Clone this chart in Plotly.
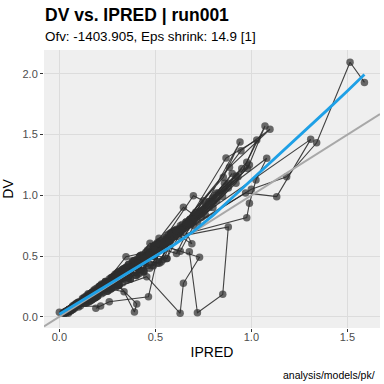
import plotly.graph_objects as go

# ---------------- data ----------------
SUBJECTS = [
    # (IPRED list, DV list) per subject, in time order
    ([0.18, 0.36, 0.52, 0.55, 0.46, 0.37, 0.27, 0.15, 0.05], [0.20, 0.39, 0.58, 0.60, 0.49, 0.36, 0.28, 0.14, 0.06]),
    ([0.22, 0.45, 0.646, 0.70, 0.60, 0.48, 0.35, 0.20, 0.07], [0.24, 0.50, 0.901, 0.84, 0.66, 0.51, 0.37, 0.22, 0.08]),
    ([0.15, 0.30, 0.42, 0.45, 0.38, 0.30, 0.22, 0.12, 0.04], [0.17, 0.33, 0.46, 0.44, 0.40, 0.31, 0.21, 0.13, 0.04]),
    ([0.30, 0.58, 0.854, 0.941, 0.76, 0.62, 0.45, 0.26, 0.09], [0.33, 0.66, 1.148, 1.439, 0.92, 0.70, 0.48, 0.28, 0.09]),
    ([0.12, 0.24, 0.33, 0.35, 0.30, 0.24, 0.17, 0.09, 0.03], [0.13, 0.25, 0.36, 0.34, 0.31, 0.25, 0.18, 0.10, 0.03]),
    ([0.20, 0.40, 0.519, 0.62, 0.53, 0.472, 0.31, 0.17, 0.06], [0.22, 0.44, 0.646, 0.70, 0.57, 0.605, 0.30, 0.18, 0.06]),
    ([0.35, 0.68, 0.98, 1.071, 0.92, 0.74, 0.54, 0.31, 0.10], [0.38, 0.80, 1.22, 1.571, 1.10, 0.82, 0.58, 0.33, 0.11]),
    ([0.16, 0.33, 0.47, 0.50, 0.43, 0.34, 0.25, 0.14, 0.05], [0.18, 0.37, 0.52, 0.55, 0.45, 0.33, 0.26, 0.15, 0.05]),
    ([0.26, 0.52, 0.698, 0.75, 0.68, 0.55, 0.40, 0.23, 0.08], [0.29, 0.58, 0.997, 0.956, 0.80, 0.60, 0.43, 0.24, 0.09]),
    ([0.13, 0.27, 0.38, 0.40, 0.34, 0.27, 0.20, 0.11, 0.04], [0.15, 0.29, 0.41, 0.45, 0.36, 0.28, 0.19, 0.12, 0.04]),
    ([0.31, 0.62, 0.886, 1.097, 0.946, 0.66, 0.48, 0.27, 0.09], [0.34, 0.72, 1.231, 1.544, 1.368, 0.76, 0.52, 0.29, 0.10]),
    ([0.19, 0.38, 0.55, 0.58, 0.50, 0.40, 0.29, 0.16, 0.05], [0.21, 0.41, 0.60, 0.64, 0.53, 0.42, 0.31, 0.17, 0.05]),
    ([0.10, 0.20, 0.28, 0.30, 0.26, 0.21, 0.15, 0.08, 0.03], [0.11, 0.21, 0.30, 0.31, 0.27, 0.22, 0.15, 0.09, 0.03]),
    ([0.25, 0.49, 0.70, 0.75, 0.64, 0.51, 0.347, 0.21, 0.07], [0.27, 0.55, 0.82, 0.88, 0.72, 0.55, 0.494, 0.22, 0.08]),
    ([0.33, 0.65, 0.868, 1.028, 0.976, 0.69, 0.50, 0.29, 0.10], [0.36, 0.74, 1.307, 1.456, 1.272, 0.78, 0.54, 0.30, 0.10]),
    ([0.17, 0.34, 0.49, 0.52, 0.44, 0.36, 0.26, 0.14, 0.05], [0.19, 0.36, 0.53, 0.57, 0.47, 0.37, 0.27, 0.15, 0.05]),
    ([0.21, 0.43, 0.62, 0.66, 0.57, 0.45, 0.33, 0.18, 0.06], [0.23, 0.47, 0.70, 0.76, 0.62, 0.48, 0.35, 0.19, 0.06]),
    ([0.28, 0.55, 0.80, 1.080, 1.024, 0.990, 0.976, 0.58, 0.42, 0.24, 0.08], [0.31, 0.62, 0.97, 1.305, 1.126, 0.934, 0.816, 0.65, 0.45, 0.26, 0.09]),
    ([1.589, 1.514, 1.34, 1.184, 1.00, 0.72, 0.45, 0.22, 0.08], [1.93, 2.096, 1.433, 1.153, 1.05, 0.78, 0.48, 0.24, 0.09]),
    ([0.40, 0.80, 1.309, 1.132, 0.97, 0.70, 0.42, 0.20, 0.07], [0.44, 0.90, 1.461, 0.989, 1.02, 0.75, 0.45, 0.22, 0.07]),
    ([0.15, 0.455, 0.629, 0.646, 0.73, 0.55, 0.35, 0.12], [0.16, 0.33, 0.028, 0.275, 0.49, 0.58, 0.37, 0.13]),
    ([0.677, 0.719, 0.851, 0.88, 0.62, 0.40, 0.20, 0.07], [0.535, 0.033, 0.184, 0.74, 0.66, 0.43, 0.21, 0.07]),
    ([0.10, 0.22, 0.337, 0.391, 0.403, 0.28, 0.16, 0.06], [0.11, 0.24, 0.206, 0.039, 0.105, 0.30, 0.17, 0.06]),
    ([0.12, 0.28, 0.46, 0.52, 0.464, 0.26, 0.19, 0.215, 0.08], [0.13, 0.30, 0.50, 0.55, 0.165, 0.124, 0.069, 0.088, 0.085]),
    ([0.0, 0.047, 0.09, 0.14], [0.036, 0.028, 0.10, 0.15]),
    ([0.08, 0.16, 0.23, 0.25, 0.21, 0.17, 0.12, 0.07, 0.02], [0.09, 0.17, 0.25, 0.24, 0.22, 0.18, 0.12, 0.08, 0.03]),
    ([0.14, 0.29, 0.41, 0.44, 0.37, 0.29, 0.21, 0.12, 0.04], [0.16, 0.31, 0.40, 0.48, 0.38, 0.31, 0.20, 0.13, 0.04]),
    ([0.19, 0.37, 0.53, 0.57, 0.49, 0.39, 0.28, 0.16, 0.05], [0.18, 0.40, 0.57, 0.62, 0.50, 0.41, 0.30, 0.15, 0.06]),
    ([0.23, 0.46, 0.63, 0.68, 0.58, 0.47, 0.34, 0.19, 0.06], [0.25, 0.49, 0.70, 0.78, 0.63, 0.50, 0.36, 0.20, 0.07]),
    ([0.11, 0.22, 0.31, 0.33, 0.28, 0.23, 0.16, 0.09, 0.03], [0.12, 0.24, 0.33, 0.36, 0.29, 0.24, 0.17, 0.10, 0.03]),
    ([0.17, 0.35, 0.48, 0.51, 0.44, 0.35, 0.25, 0.14, 0.05], [0.19, 0.38, 0.50, 0.56, 0.46, 0.37, 0.27, 0.16, 0.05]),
    ([0.21, 0.42, 0.60, 0.64, 0.55, 0.44, 0.32, 0.18, 0.06], [0.23, 0.45, 0.66, 0.72, 0.60, 0.46, 0.33, 0.19, 0.06]),
    ([0.13, 0.26, 0.36, 0.39, 0.33, 0.26, 0.19, 0.11, 0.04], [0.14, 0.28, 0.39, 0.42, 0.35, 0.27, 0.20, 0.11, 0.04]),
    ([0.24, 0.48, 0.67, 0.72, 0.62, 0.49, 0.36, 0.20, 0.07], [0.26, 0.53, 0.76, 0.86, 0.69, 0.53, 0.38, 0.21, 0.07]),
    ([0.16, 0.31, 0.44, 0.47, 0.40, 0.32, 0.23, 0.13, 0.04], [0.17, 0.34, 0.48, 0.50, 0.42, 0.34, 0.24, 0.14, 0.05]),
    ([0.09, 0.18, 0.26, 0.28, 0.24, 0.19, 0.14, 0.08, 0.02], [0.10, 0.19, 0.28, 0.29, 0.25, 0.20, 0.15, 0.08, 0.03]),
    ([0.20, 0.39, 0.56, 0.60, 0.51, 0.41, 0.30, 0.17, 0.06], [0.21, 0.43, 0.61, 0.67, 0.55, 0.43, 0.31, 0.18, 0.06]),
    ([0.27, 0.53, 0.72, 0.78, 0.66, 0.53, 0.39, 0.22, 0.07], [0.30, 0.59, 0.84, 0.95, 0.76, 0.58, 0.42, 0.23, 0.08]),
    ([0.12, 0.25, 0.35, 0.37, 0.32, 0.25, 0.18, 0.10, 0.03], [0.13, 0.26, 0.37, 0.41, 0.33, 0.26, 0.19, 0.10, 0.04]),
    ([0.18, 0.36, 0.51, 0.54, 0.46, 0.37, 0.27, 0.15, 0.05], [0.20, 0.40, 0.55, 0.59, 0.49, 0.39, 0.28, 0.16, 0.05]),
    ([0.22, 0.44, 0.61, 0.65, 0.56, 0.45, 0.33, 0.18, 0.06], [0.24, 0.48, 0.68, 0.74, 0.61, 0.47, 0.35, 0.19, 0.06]),
    ([0.15, 0.30, 0.43, 0.46, 0.39, 0.31, 0.22, 0.13, 0.04], [0.16, 0.32, 0.47, 0.49, 0.41, 0.32, 0.23, 0.13, 0.04]),
    ([0.29, 0.57, 0.76, 0.83, 0.70, 0.57, 0.41, 0.24, 0.08], [0.32, 0.64, 0.90, 1.02, 0.81, 0.63, 0.44, 0.25, 0.08]),
    ([0.10, 0.21, 0.30, 0.32, 0.27, 0.22, 0.16, 0.09, 0.03], [0.11, 0.23, 0.31, 0.35, 0.28, 0.23, 0.16, 0.09, 0.03]),
    ([0.25, 0.50, 0.69, 0.73, 0.63, 0.50, 0.37, 0.21, 0.07], [0.27, 0.55, 0.79, 0.85, 0.70, 0.54, 0.40, 0.22, 0.07]),
    ([0.07, 0.15, 0.24, 0.30, 0.27, 0.22, 0.16, 0.10, 0.04], [0.09, 0.19, 0.29, 0.36, 0.24, 0.25, 0.13, 0.12, 0.05]),
    ([0.12, 0.26, 0.38, 0.42, 0.36, 0.28, 0.20, 0.12, 0.05], [0.15, 0.22, 0.46, 0.50, 0.31, 0.33, 0.17, 0.14, 0.04]),
    ([0.16, 0.33, 0.50, 0.56, 0.48, 0.38, 0.27, 0.16, 0.06], [0.13, 0.39, 0.59, 0.67, 0.42, 0.44, 0.23, 0.19, 0.05]),
    ([0.20, 0.41, 0.58, 0.63, 0.54, 0.43, 0.31, 0.18, 0.07], [0.24, 0.35, 0.69, 0.75, 0.47, 0.50, 0.26, 0.21, 0.06]),
    ([0.09, 0.19, 0.28, 0.31, 0.27, 0.21, 0.15, 0.09, 0.03], [0.11, 0.16, 0.33, 0.37, 0.23, 0.25, 0.12, 0.11, 0.04]),
    ([0.14, 0.29, 0.44, 0.49, 0.42, 0.33, 0.24, 0.14, 0.05], [0.17, 0.35, 0.37, 0.58, 0.50, 0.28, 0.28, 0.12, 0.06]),
    ([0.18, 0.37, 0.55, 0.60, 0.52, 0.41, 0.30, 0.17, 0.06], [0.22, 0.31, 0.65, 0.71, 0.44, 0.48, 0.25, 0.20, 0.07]),
    ([0.23, 0.47, 0.64, 0.69, 0.59, 0.47, 0.34, 0.20, 0.07], [0.27, 0.56, 0.76, 0.60, 0.70, 0.40, 0.40, 0.17, 0.08]),
    ([0.11, 0.22, 0.33, 0.36, 0.31, 0.25, 0.18, 0.10, 0.04], [0.09, 0.27, 0.39, 0.43, 0.26, 0.29, 0.15, 0.12, 0.05]),
    ([0.15, 0.31, 0.46, 0.51, 0.44, 0.35, 0.25, 0.15, 0.05], [0.18, 0.26, 0.54, 0.61, 0.38, 0.41, 0.21, 0.17, 0.06]),
    ([0.19, 0.39, 0.56, 0.61, 0.52, 0.42, 0.30, 0.18, 0.06], [0.23, 0.46, 0.48, 0.72, 0.62, 0.36, 0.35, 0.15, 0.07]),
    ([0.26, 0.51, 0.68, 0.74, 0.63, 0.51, 0.37, 0.22, 0.08], [0.31, 0.44, 0.80, 0.87, 0.54, 0.60, 0.31, 0.26, 0.09]),
    ([0.08, 0.17, 0.25, 0.27, 0.23, 0.19, 0.13, 0.08, 0.03], [0.10, 0.20, 0.21, 0.32, 0.27, 0.16, 0.15, 0.07, 0.04]),
    ([0.13, 0.27, 0.40, 0.44, 0.38, 0.30, 0.22, 0.13, 0.05], [0.16, 0.32, 0.47, 0.37, 0.45, 0.25, 0.26, 0.11, 0.06]),
    ([0.17, 0.35, 0.52, 0.57, 0.49, 0.39, 0.28, 0.17, 0.06], [0.14, 0.41, 0.61, 0.68, 0.42, 0.46, 0.24, 0.20, 0.05]),
    ([0.21, 0.43, 0.60, 0.66, 0.56, 0.45, 0.32, 0.19, 0.07], [0.25, 0.51, 0.71, 0.78, 0.48, 0.53, 0.38, 0.16, 0.08]),
    ([0.10, 0.21, 0.31, 0.34, 0.29, 0.23, 0.17, 0.10, 0.04], [0.12, 0.25, 0.26, 0.40, 0.34, 0.20, 0.20, 0.08, 0.05]),
    ([0.24, 0.49, 0.66, 0.71, 0.61, 0.49, 0.35, 0.21, 0.07], [0.29, 0.58, 0.78, 0.84, 0.52, 0.58, 0.30, 0.25, 0.06]),
    ([0.14, 0.28, 0.42, 0.46, 0.40, 0.31, 0.22, 0.13, 0.05], [0.11, 0.33, 0.50, 0.55, 0.34, 0.37, 0.19, 0.15, 0.06]),
    ([0.18, 0.36, 0.53, 0.58, 0.50, 0.40, 0.29, 0.17, 0.06], [0.21, 0.43, 0.45, 0.69, 0.59, 0.34, 0.34, 0.14, 0.07]),
    ([0.30, 0.60, 0.82, 0.90, 0.78, 0.63, 0.46, 0.27, 0.09], [0.33, 0.70, 1.02, 1.18, 0.90, 0.70, 0.50, 0.29, 0.10]),
    ([0.28, 0.56, 0.78, 0.86, 0.74, 0.60, 0.43, 0.25, 0.08], [0.31, 0.64, 0.95, 1.10, 0.86, 0.66, 0.47, 0.27, 0.09]),
    ([0.32, 0.63, 0.88, 0.95, 0.82, 0.66, 0.48, 0.28, 0.09], [0.35, 0.73, 1.10, 1.22, 0.96, 0.73, 0.52, 0.30, 0.10]),
    ([0.27, 0.54, 0.74, 0.81, 0.70, 0.56, 0.41, 0.24, 0.08], [0.30, 0.62, 0.88, 1.00, 0.80, 0.62, 0.44, 0.26, 0.09]),
    ([0.34, 0.66, 0.92, 0.99, 0.85, 0.68, 0.50, 0.29, 0.10], [0.37, 0.76, 1.16, 1.25, 0.99, 0.76, 0.55, 0.31, 0.11]),
    ([0.29, 0.58, 0.80, 0.88, 0.76, 0.61, 0.44, 0.26, 0.09], [0.32, 0.68, 0.98, 1.06, 0.84, 0.68, 0.48, 0.28, 0.09]),
    ([0.26, 0.52, 0.71, 0.78, 0.67, 0.54, 0.39, 0.23, 0.08], [0.29, 0.60, 0.86, 0.92, 0.77, 0.60, 0.42, 0.25, 0.08]),
    ([0.31, 0.61, 0.85, 0.93, 0.80, 0.64, 0.47, 0.27, 0.09], [0.34, 0.71, 1.04, 1.15, 0.93, 0.71, 0.51, 0.29, 0.10]),
]

# loess smooth
SMOOTH_X = [0.0, 0.1, 0.2, 0.3, 0.4, 0.5, 0.6, 0.7, 0.8, 0.9, 1.0, 1.1, 1.2, 1.3, 1.4, 1.5, 1.589]
SMOOTH_Y = [0.02, 0.115, 0.21, 0.305, 0.40, 0.495, 0.595, 0.705, 0.835, 0.98, 1.125, 1.27, 1.415, 1.56, 1.71, 1.86, 1.995]

X_RANGE = [-0.08, 1.67]
Y_RANGE = [-0.093, 2.197]
X_TICKS = [0.0, 0.5, 1.0, 1.5]
Y_TICKS = [0.0, 0.5, 1.0, 1.5, 2.0]

TITLE = "DV vs. IPRED | run001"
SUBTITLE = "Ofv: -1403.905, Eps shrink: 14.9 [1]"
CAPTION = "analysis/models/pk/"

FONT = "Liberation Sans, Arial, sans-serif"

# ---------------- figure ----------------
lx, ly = [], []
for xs, ys in SUBJECTS:
    lx += xs + [None]
    ly += ys + [None]

fig = go.Figure()
fig.add_trace(go.Scatter(
    x=lx, y=ly, mode="lines",
    line=dict(color="rgba(35,35,35,0.85)", width=1.1),
    hoverinfo="skip", showlegend=False))
fig.add_trace(go.Scatter(
    x=[v for v in lx if v is not None], y=[v for v in ly if v is not None],
    mode="markers",
    marker=dict(color="rgba(45,45,45,0.7)", size=7.5, line=dict(width=0)),
    showlegend=False))
fig.add_trace(go.Scatter(
    x=X_RANGE, y=X_RANGE, mode="lines",
    line=dict(color="#a8a8a8", width=2), showlegend=False))
fig.add_trace(go.Scatter(
    x=SMOOTH_X, y=SMOOTH_Y, mode="lines",
    line=dict(color="#1ea0e6", width=2.8), showlegend=False))

axis_common = dict(
    showgrid=True, gridcolor="#dcdcdc", gridwidth=1, zeroline=False,
    ticks="outside", ticklen=3, tickcolor="#333333", tickwidth=1,
    tickfont=dict(family=FONT, size=11, color="#4d4d4d"),
    tickformat=".1f", showline=False, automargin=False)

fig.update_layout(
    width=384, height=384,
    margin=dict(l=44, r=4, t=50, b=56),
    paper_bgcolor="white", plot_bgcolor="#efefef",
    font=dict(family=FONT),
    xaxis=dict(range=X_RANGE, tickvals=X_TICKS, ticklabelstandoff=-4,
               title=dict(text="IPRED", font=dict(family=FONT, size=14, color="black"), standoff=4),
               **axis_common),
    yaxis=dict(range=Y_RANGE, tickvals=Y_TICKS,
               title=dict(text="DV", font=dict(family=FONT, size=14, color="black"), standoff=6),
               **axis_common),
    annotations=[
        dict(text="<b>" + TITLE + "</b>", xref="paper", yref="paper",
             x=-0.003, y=1.126, xanchor="left", yanchor="middle", showarrow=False,
             font=dict(family=FONT, size=17.5, color="black")),
        dict(text=SUBTITLE, xref="paper", yref="paper",
             x=-0.003, y=1.047, xanchor="left", yanchor="middle", showarrow=False,
             font=dict(family=FONT, size=13.4, color="black")),
        dict(text=CAPTION, xref="paper", yref="paper",
             x=0.99, y=-0.169, xanchor="right", yanchor="middle", showarrow=False,
             font=dict(family=FONT, size=10.5, color="black")),
    ],
)

fig.write_html("out.html", config={"displayModeBar": False},
               post_script="document.body.style.margin='0';")
